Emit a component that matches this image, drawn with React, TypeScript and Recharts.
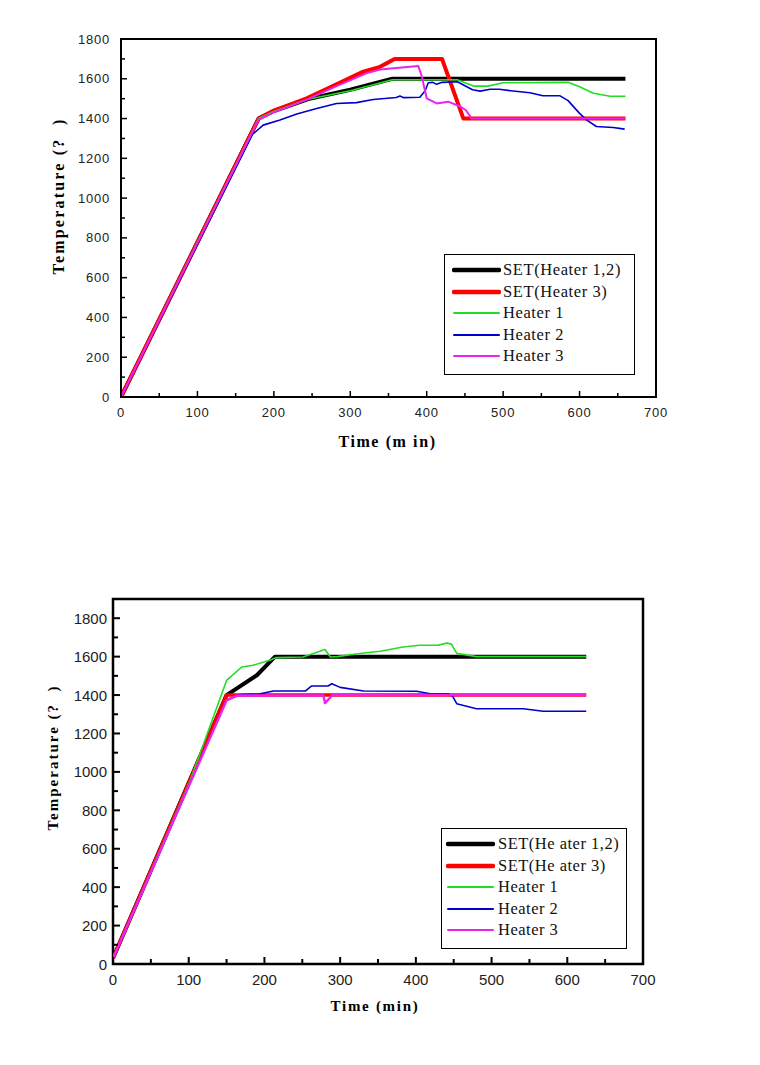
import React from 'react';
import { LineChart, Line, XAxis, YAxis, ReferenceArea, Legend } from 'recharts';

type Pt = [number, number];

// ---------- Top chart data (time min, temperature) ----------
const topSet12: Pt[] = [[0, 0], [180, 1400], [200, 1438], [245, 1498], [300, 1545], [355, 1600], [660, 1600]];
const topSet3: Pt[] = [[0, 0], [180, 1400], [200, 1440], [243, 1502], [282, 1572], [317, 1636], [339, 1660], [358, 1700], [420, 1700], [448, 1400], [660, 1400]];
const topHeater1: Pt[] = [[0, 0], [180, 1400], [200, 1436], [245, 1497], [300, 1540], [330, 1570], [355, 1595], [440, 1595], [450, 1580], [462, 1563], [480, 1563], [500, 1580], [585, 1582], [600, 1560], [618, 1527], [640, 1512], [660, 1512]];
const topHeater2: Pt[] = [[0, 0], [172, 1320], [178, 1340], [186, 1367], [208, 1393], [230, 1423], [256, 1451], [282, 1476], [308, 1480], [330, 1496], [360, 1506], [365, 1513], [370, 1505], [391, 1507], [398, 1540], [402, 1580], [408, 1582], [413, 1572], [420, 1582], [440, 1585], [450, 1565], [460, 1545], [470, 1538], [483, 1547], [495, 1547], [510, 1540], [535, 1530], [552, 1515], [574, 1515], [585, 1490], [592, 1460], [600, 1426], [609, 1393], [622, 1360], [644, 1355], [659, 1347]];
const topHeater3: Pt[] = [[0, 0], [180, 1395], [199, 1430], [243, 1495], [282, 1563], [321, 1627], [339, 1647], [389, 1664], [393, 1620], [400, 1502], [413, 1476], [428, 1485], [443, 1462], [451, 1443], [459, 1400], [660, 1400]];

// ---------- Bottom chart data ----------
const botSet12: Pt[] = [[0, 30], [150, 1400], [190, 1503], [214, 1600], [625, 1600]];
const botSet3: Pt[] = [[0, 30], [150, 1400], [625, 1400]];
const botHeater1: Pt[] = [[0, 30], [102, 955], [150, 1476], [170, 1546], [185, 1555], [207, 1581], [216, 1595], [251, 1598], [280, 1637], [287, 1598], [296, 1600], [326, 1616], [353, 1628], [383, 1650], [405, 1659], [430, 1660], [441, 1671], [447, 1665], [454, 1617], [480, 1600], [625, 1600]];
const botHeater2: Pt[] = [[0, 30], [150, 1375], [168, 1403], [193, 1405], [212, 1421], [254, 1421], [262, 1447], [284, 1447], [289, 1459], [300, 1440], [331, 1421], [401, 1420], [419, 1407], [443, 1407], [449, 1390], [454, 1355], [480, 1329], [542, 1329], [568, 1316], [625, 1316]];
const botHeater3: Pt[] = [[0, 30], [150, 1372], [165, 1398], [278, 1398], [280, 1358], [290, 1400], [625, 1400]];

// ---------- Labels / ticks ----------
const seriesNames = ['SET(Heater 1,2)', 'SET(Heater 3)', 'Heater 1', 'Heater 2', 'Heater 3'];
const seriesNamesBottom = ['SET(He ater 1,2)', 'SET(He ater 3)', 'Heater 1', 'Heater 2', 'Heater 3'];
const seriesColors = ['#000000', '#ff0000', '#22dd22', '#0000cc', '#ee22ee'];
const seriesWidthsTop = [4, 4, 1.6, 1.6, 2];
const seriesWidthsBottom = [4, 3.5, 1.6, 1.6, 2.4];
const xTicks = [0, 50, 100, 150, 200, 250, 300, 350, 400, 450, 500, 550, 600, 650, 700];
const yTicks = [0, 100, 200, 300, 400, 500, 600, 700, 800, 900, 1000, 1100, 1200, 1300, 1400, 1500, 1600, 1700, 1800];
const yTitle = 'Temperature (?  )';
const xTitleTop = 'Time (m in)';
const xTitleBottom = 'Time (min)';

const SANS = '"Liberation Sans", Arial, sans-serif';
const SERIF = '"Liberation Serif", "Times New Roman", serif';

const rows = (pts: Pt[]) => pts.map(([x, y]) => ({ x, y }));

type TickCfg = { majorLen: number; minorLen: number; gap: number; fontSize: number; ls: number; sw: number };

const makeYTick = (c: TickCfg) => (props: any) => {
  const { x, y, payload } = props;
  const v = payload.value;
  const major = v % 200 === 0;
  return (
    <g>
      <line x1={x} x2={x + (major ? c.majorLen : c.minorLen)} y1={y} y2={y} stroke="#000" strokeWidth={c.sw} />
      {major && (
        <text x={x - c.gap} y={y} textAnchor="end" dominantBaseline="central" fontFamily={SANS} fontSize={c.fontSize} letterSpacing={c.ls} fill="#222">
          {v}
        </text>
      )}
    </g>
  );
};

const makeXTick = (c: TickCfg) => (props: any) => {
  const { x, y, payload } = props;
  const v = payload.value;
  const major = v % 100 === 0;
  return (
    <g>
      <line x1={x} x2={x} y1={y} y2={y - (major ? c.majorLen : c.minorLen)} stroke="#000" strokeWidth={c.sw} />
      {major && (
        <text x={x} y={y + c.gap} textAnchor="middle" dominantBaseline="central" fontFamily={SANS} fontSize={c.fontSize} letterSpacing={c.ls} fill="#222">
          {v}
        </text>
      )}
    </g>
  );
};

type LegendCfg = { names: string[]; width: number; height: number; lineLeft: number; lineLen: number; textLeft: number; rowTop: number; rowStep: number; fontSize: number; ls: number };

const makeLegend = (c: LegendCfg) => () => (
  <div style={{ width: c.width, height: c.height, border: '1px solid #000', boxSizing: 'border-box', background: '#fff', position: 'relative' }}>
    {c.names.map((n, i) => {
      const cy = c.rowTop + i * c.rowStep;
      const thick = i < 2;
      return (
        <React.Fragment key={n}>
          <svg width={c.lineLen + 4} height={8} style={{ position: 'absolute', left: c.lineLeft - 2, top: cy - 4 - 1 }}>
            <line x1={2} x2={c.lineLen + 2} y1={4} y2={4} stroke={seriesColors[i]} strokeWidth={thick ? 4.5 : 2} strokeLinecap="round" />
          </svg>
          <span style={{ position: 'absolute', left: c.textLeft, top: cy - 11, lineHeight: '20px', fontFamily: SERIF, fontSize: c.fontSize, letterSpacing: c.ls, whiteSpace: 'pre', color: '#111' }}>
            {n}
          </span>
        </React.Fragment>
      );
    })}
  </div>
);

type ChartCfg = {
  data: Pt[][];
  widths: number[];
  yMax: number;
  margin: { top: number; right: number; bottom: number; left: number };
  height: number;
  tick: TickCfg;
  xTick: TickCfg;
  boxWidth: number;
  legend: LegendCfg;
  legendPos: { left: number; top: number };
  yTitleDx: number;
  yTitleDy: number;
  yTitleSize: number;
  yTitleLs: number;
  xTitle: string;
  xTitleDx: number;
  xTitleDy: number;
  xTitleSize: number;
  xTitleLs: number;
};

const Chart = ({ c }: { c: ChartCfg }) => {
  const YT = makeYTick(c.tick);
  const XT = makeXTick(c.xTick);
  return (
    <LineChart width={760} height={c.height} margin={c.margin}>
      <XAxis
        type="number"
        dataKey="x"
        domain={[0, 700]}
        ticks={xTicks}
        interval={0}
        allowDataOverflow
        axisLine={false}
        tickLine={false}
        tickSize={0}
        tickMargin={0}
        height={30}
        tick={XT}
        label={(p: any) => {
          const vb = p.viewBox;
          return (
            <text x={vb.x + vb.width / 2 + c.xTitleDx} y={vb.y + c.xTitleDy} textAnchor="middle" dominantBaseline="central" fontFamily={SERIF} fontWeight="bold" fontSize={c.xTitleSize} letterSpacing={c.xTitleLs} style={{ whiteSpace: 'pre' }} fill="#000">
              {c.xTitle}
            </text>
          );
        }}
      />
      <YAxis
        type="number"
        domain={[0, c.yMax]}
        ticks={yTicks}
        interval={0}
        allowDataOverflow
        axisLine={false}
        tickLine={false}
        tickSize={0}
        tickMargin={0}
        width={60}
        tick={YT}
        label={(p: any) => {
          const vb = p.viewBox;
          const tx = vb.x + c.yTitleDx;
          const ty = vb.y + vb.height / 2 + c.yTitleDy;
          return (
            <text x={tx} y={ty} transform={`rotate(-90 ${tx} ${ty})`} textAnchor="middle" dominantBaseline="central" fontFamily={SERIF} fontWeight="bold" fontSize={c.yTitleSize} letterSpacing={c.yTitleLs} style={{ whiteSpace: 'pre' }} fill="#000">
              {yTitle}
            </text>
          );
        }}
      />
      <ReferenceArea x1={0} x2={700} y1={0} y2={c.yMax} fill="none" fillOpacity={0} stroke="#000" strokeWidth={c.boxWidth} ifOverflow="visible" />
      {c.data.map((d, i) => (
        <Line
          key={i}
          data={rows(d)}
          dataKey="y"
          name={seriesNames[i]}
          type="linear"
          stroke={seriesColors[i]}
          strokeWidth={c.widths[i]}
          dot={false}
          activeDot={false}
          strokeLinejoin="round"
          isAnimationActive={false}
        />
      ))}
      <Legend
        layout="horizontal"
        align="center"
        verticalAlign="middle"
        content={makeLegend(c.legend)}
        wrapperStyle={{ left: c.legendPos.left, top: c.legendPos.top, width: c.legend.width, height: c.legend.height }}
      />
    </LineChart>
  );
};

const topCfg: ChartCfg = {
  data: [topSet12, topSet3, topHeater1, topHeater2, topHeater3],
  widths: seriesWidthsTop,
  yMax: 1800,
  margin: { top: 39, right: 104, bottom: 53, left: 61 },
  height: 480,
  tick: { majorLen: 6, minorLen: 4, gap: 11, fontSize: 13, ls: 0.8, sw: 1.5 },
  xTick: { majorLen: 6, minorLen: 4, gap: 15, fontSize: 13, ls: 0.8, sw: 1.5 },
  boxWidth: 2,
  legend: { names: seriesNames, width: 191, height: 121, lineLeft: 9, lineLen: 45, textLeft: 58, rowTop: 16, rowStep: 21.5, fontSize: 16.5, ls: 0.6 },
  legendPos: { left: 444, top: 254 },
  yTitleDx: -3,
  yTitleDy: -22,
  yTitleSize: 16,
  yTitleLs: 2.2,
  xTitle: xTitleTop,
  xTitleDx: -1,
  xTitleDy: 44,
  xTitleSize: 16,
  xTitleLs: 1.6,
};

const bottomCfg: ChartCfg = {
  data: [botSet12, botSet3, botHeater1, botHeater2, botHeater3],
  widths: seriesWidthsBottom,
  yMax: 1900,
  margin: { top: 39, right: 117, bottom: 46, left: 53 },
  height: 480,
  tick: { majorLen: 7, minorLen: 5, gap: 6, fontSize: 15, ls: 0, sw: 2 },
  xTick: { majorLen: 7, minorLen: 5, gap: 15, fontSize: 15, ls: 0, sw: 2 },
  boxWidth: 2.5,
  legend: { names: seriesNamesBottom, width: 186, height: 121, lineLeft: 6, lineLen: 45, textLeft: 56, rowTop: 16, rowStep: 21.5, fontSize: 16.5, ls: 0.5 },
  legendPos: { left: 441, top: 268 },
  yTitleDx: 0,
  yTitleDy: -24,
  yTitleSize: 15,
  yTitleLs: 2,
  xTitle: xTitleBottom,
  xTitleDx: -3,
  xTitleDy: 42,
  xTitleSize: 15,
  xTitleLs: 1.7,
};

export default function App() {
  return (
    <div style={{ position: 'absolute', left: 0, top: 0, width: 760, height: 1065, background: '#fff', overflow: 'hidden' }}>
      <div style={{ position: 'absolute', left: 0, top: 0 }}>
        <Chart c={topCfg} />
      </div>
      <div style={{ position: 'absolute', left: 0, top: 560 }}>
        <Chart c={bottomCfg} />
      </div>
    </div>
  );
}
